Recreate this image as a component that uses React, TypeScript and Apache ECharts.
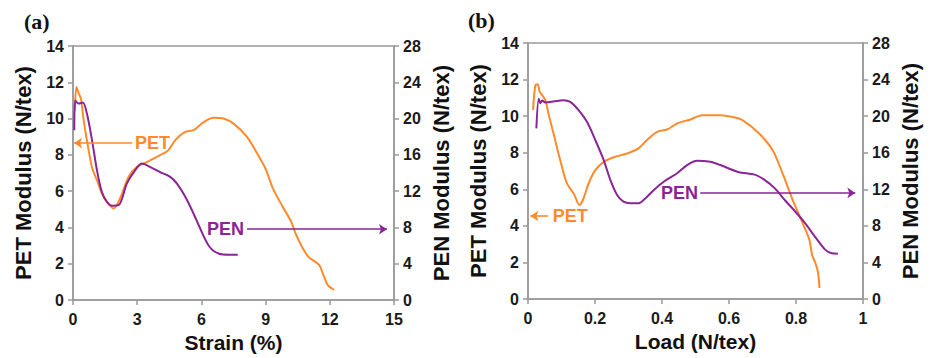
import React, { useEffect, useRef } from "react";
import * as echarts from "echarts";

// Panel (a): modulus vs strain (%)
const strainPET_x = [0.08, 0.16, 0.26, 0.37, 0.5, 0.65, 0.89, 1.12, 1.35, 1.59, 1.9, 2.2, 2.6, 2.99, 3.45, 4.07, 4.46, 4.77, 5.24, 5.63, 6.1, 6.56, 7.03, 7.5, 8.12, 8.74, 9.03, 9.34, 9.8, 10.2, 10.4, 10.7, 11.0, 11.5, 11.7, 11.9, 12.2];
const strainPET_y = [10.4, 11.74, 11.4, 11.1, 9.9, 8.8, 7.3, 6.6, 5.87, 5.4, 5.05, 5.6, 6.8, 7.34, 7.6, 7.98, 8.26, 8.8, 9.26, 9.36, 9.8, 10.05, 10.0, 9.72, 9.0, 7.8, 7.15, 6.15, 5.14, 4.31, 3.67, 2.93, 2.38, 1.93, 1.38, 0.83, 0.55];
const strainPEN_x = [0.06, 0.1, 0.26, 0.46, 0.65, 0.89, 1.12, 1.35, 1.59, 1.82, 2.13, 2.52, 2.9, 3.22, 3.6, 4.07, 4.54, 4.85, 5.24, 5.63, 5.9, 6.37, 6.83, 7.3, 7.7];
const strainPEN_y = [18.7, 22.0, 21.65, 21.76, 20.55, 17.6, 14.3, 11.9, 10.8, 10.4, 10.45, 12.85, 14.3, 15.05, 14.67, 14.1, 13.57, 12.85, 11.4, 9.54, 8.1, 5.9, 5.1, 5.0, 5.0];

// Panel (b): modulus vs load (N/tex)
const loadPET_x = [0.015, 0.022, 0.029, 0.035, 0.042, 0.052, 0.061, 0.076, 0.096, 0.116, 0.136, 0.154, 0.166, 0.181, 0.201, 0.226, 0.256, 0.296, 0.33, 0.355, 0.385, 0.415, 0.445, 0.485, 0.52, 0.574, 0.609, 0.64, 0.69, 0.73, 0.76, 0.79, 0.82, 0.84, 0.848, 0.858, 0.866, 0.87];
const loadPET_y = [10.33, 11.69, 11.75, 11.33, 11.15, 10.87, 10.15, 9.06, 7.6, 6.33, 5.78, 5.14, 5.51, 6.33, 7.05, 7.5, 7.75, 7.96, 8.24, 8.69, 9.14, 9.27, 9.6, 9.82, 10.05, 10.05, 9.96, 9.78, 9.05, 8.15, 6.87, 5.42, 4.14, 3.24, 2.42, 1.96, 1.42, 0.6];
const loadPEN_x = [0.025, 0.032, 0.037, 0.042, 0.052, 0.076, 0.106, 0.126, 0.151, 0.176, 0.201, 0.226, 0.246, 0.266, 0.285, 0.305, 0.33, 0.35, 0.375, 0.405, 0.445, 0.475, 0.505, 0.544, 0.574, 0.627, 0.677, 0.707, 0.737, 0.767, 0.797, 0.827, 0.857, 0.887, 0.907, 0.925];
const loadPEN_y = [18.66, 21.9, 21.4, 21.7, 21.5, 21.6, 21.75, 21.56, 20.65, 19.38, 17.38, 15.2, 13.0, 11.38, 10.65, 10.47, 10.47, 11.0, 11.9, 12.83, 13.75, 14.65, 15.12, 15.0, 14.65, 13.9, 13.6, 13.0, 12.1, 10.8, 9.6, 8.3, 6.8, 5.4, 5.0, 4.95];

const PET_ticks = { min: 0, max: 14, interval: 2 };
const PEN_ticks = { min: 0, max: 28, interval: 4 };
const strainTicks = { min: 0, max: 15, interval: 3 };
const loadTicks = { min: 0, max: 1, interval: 0.2 };

const leftName = "PET Modulus (N/tex)";
const rightName = "PEN Modulus (N/tex)";
const strainName = "Strain (%)";
const loadName = "Load (N/tex)";

const ORANGE = "#FF8A2C";
const PURPLE = "#8A2596";
const AXIS = "#999999";
const FONT = "'Liberation Sans', Arial, sans-serif";

const zip = (xs: number[], ys: number[]) => xs.map((x, i) => [x, ys[i]]);

function arrowLine(color: string, from: number[], to: number[]) {
  return {
    silent: true,
    symbol: ["none", "arrow"],
    symbolSize: 8,
    label: { show: false },
    lineStyle: { color, width: 1.6, type: "solid" },
    data: [[{ coord: from }, { coord: to }]],
  };
}

function textPoint(color: string, text: string, at: number[]) {
  return {
    silent: true,
    data: [
      {
        coord: at,
        symbol: "circle",
        symbolSize: 1,
        itemStyle: { color: "rgba(0,0,0,0)" },
        label: {
          show: true,
          position: "inside",
          formatter: text,
          color,
          fontWeight: "bold",
          fontSize: 18,
          fontFamily: FONT,
        },
      },
    ],
  };
}

function yAxis(gridIndex: number, ticks: any, name: string, position: "left" | "right") {
  return {
    type: "value",
    gridIndex,
    position,
    ...ticks,
    name,
    nameLocation: "middle",
    nameGap: position === "left" ? 39 : 36,
    nameRotate: 90,
    nameTextStyle: { fontSize: 22, fontWeight: "bold", color: "#111", fontFamily: FONT },
    axisLine: { show: true, lineStyle: { color: AXIS, width: 1.5 } },
    axisTick: { show: true, inside: false, length: 5, lineStyle: { color: AXIS, width: 1.5 } },
    axisLabel: { fontSize: 16, fontWeight: "bold", color: "#1a1a1a", margin: 9, fontFamily: FONT },
    splitLine: { show: false },
  };
}

function xAxis(gridIndex: number, ticks: any, name: string) {
  return {
    type: "value",
    gridIndex,
    ...ticks,
    name,
    nameLocation: "middle",
    nameGap: 32,
    nameTextStyle: { fontSize: 21, fontWeight: "bold", color: "#111", fontFamily: FONT },
    axisLine: { show: true, onZero: false, lineStyle: { color: AXIS, width: 1.5 } },
    axisTick: { show: true, inside: false, length: 5, lineStyle: { color: AXIS, width: 1.5 } },
    axisLabel: { fontSize: 16, fontWeight: "bold", color: "#1a1a1a", margin: 11, fontFamily: FONT },
    splitLine: { show: false },
  };
}

export default function App() {
  const ref = useRef<HTMLDivElement>(null);
  useEffect(() => {
    if (!ref.current) return;
    const chart = echarts.init(ref.current, undefined, { renderer: "svg" });
    const line = (x: number, y: number, data: number[][], color: string, extra: any = {}) => ({
      type: "line",
      xAxisIndex: x,
      yAxisIndex: y,
      data,
      showSymbol: false,
      symbol: "none",
      smooth: 0.3,
      lineStyle: { color, width: 2 },
      itemStyle: { color },
      z: 3,
      ...extra,
    });
    chart.setOption({
      animation: false,
      backgroundColor: "#ffffff",
      grid: [
        { left: 73, top: 46, right: 537, bottom: 58, show: true, borderColor: AXIS, borderWidth: 1.5 },
        { left: 528, top: 43, right: 68, bottom: 59, show: true, borderColor: AXIS, borderWidth: 1.5 },
      ],
      xAxis: [xAxis(0, strainTicks, strainName), xAxis(1, loadTicks, loadName)],
      yAxis: [
        yAxis(0, PET_ticks, leftName, "left"),
        yAxis(0, PEN_ticks, rightName, "right"),
        yAxis(1, PET_ticks, leftName, "left"),
        yAxis(1, PEN_ticks, rightName, "right"),
      ],
      graphic: [
        { type: "text", left: 24, top: 10, style: { text: "(a)", font: "bold 22px 'Liberation Serif', 'Times New Roman', serif", fill: "#111" } },
        { type: "text", left: 468, top: 9, style: { text: "(b)", font: "bold 22px 'Liberation Serif', 'Times New Roman', serif", fill: "#111" } },
      ],
      series: [
        line(0, 0, zip(strainPET_x, strainPET_y), ORANGE, {
          markLine: arrowLine(ORANGE, [2.77, 8.65], [0.05, 8.65]),
          markPoint: textPoint(ORANGE, "PET", [3.72, 8.65]),
        }),
        line(0, 1, zip(strainPEN_x, strainPEN_y), PURPLE, {
          markLine: arrowLine(PURPLE, [8.13, 7.8], [14.67, 7.8]),
          markPoint: textPoint(PURPLE, "PEN", [7.13, 7.8]),
        }),
        line(1, 2, zip(loadPET_x, loadPET_y), ORANGE, {
          markLine: arrowLine(ORANGE, [0.06, 4.54], [0.007, 4.54]),
          markPoint: textPoint(ORANGE, "PET", [0.126, 4.54]),
        }),
        line(1, 3, zip(loadPEN_x, loadPEN_y), PURPLE, {
          markLine: arrowLine(PURPLE, [0.514, 11.6], [0.977, 11.6]),
          markPoint: textPoint(PURPLE, "PEN", [0.452, 11.6]),
        }),
      ],
    });
    return () => chart.dispose();
  }, []);
  return (
    <div
      ref={ref}
      style={{ position: "fixed", left: 0, top: 0, width: 931, height: 358, background: "#fff" }}
    />
  );
}
